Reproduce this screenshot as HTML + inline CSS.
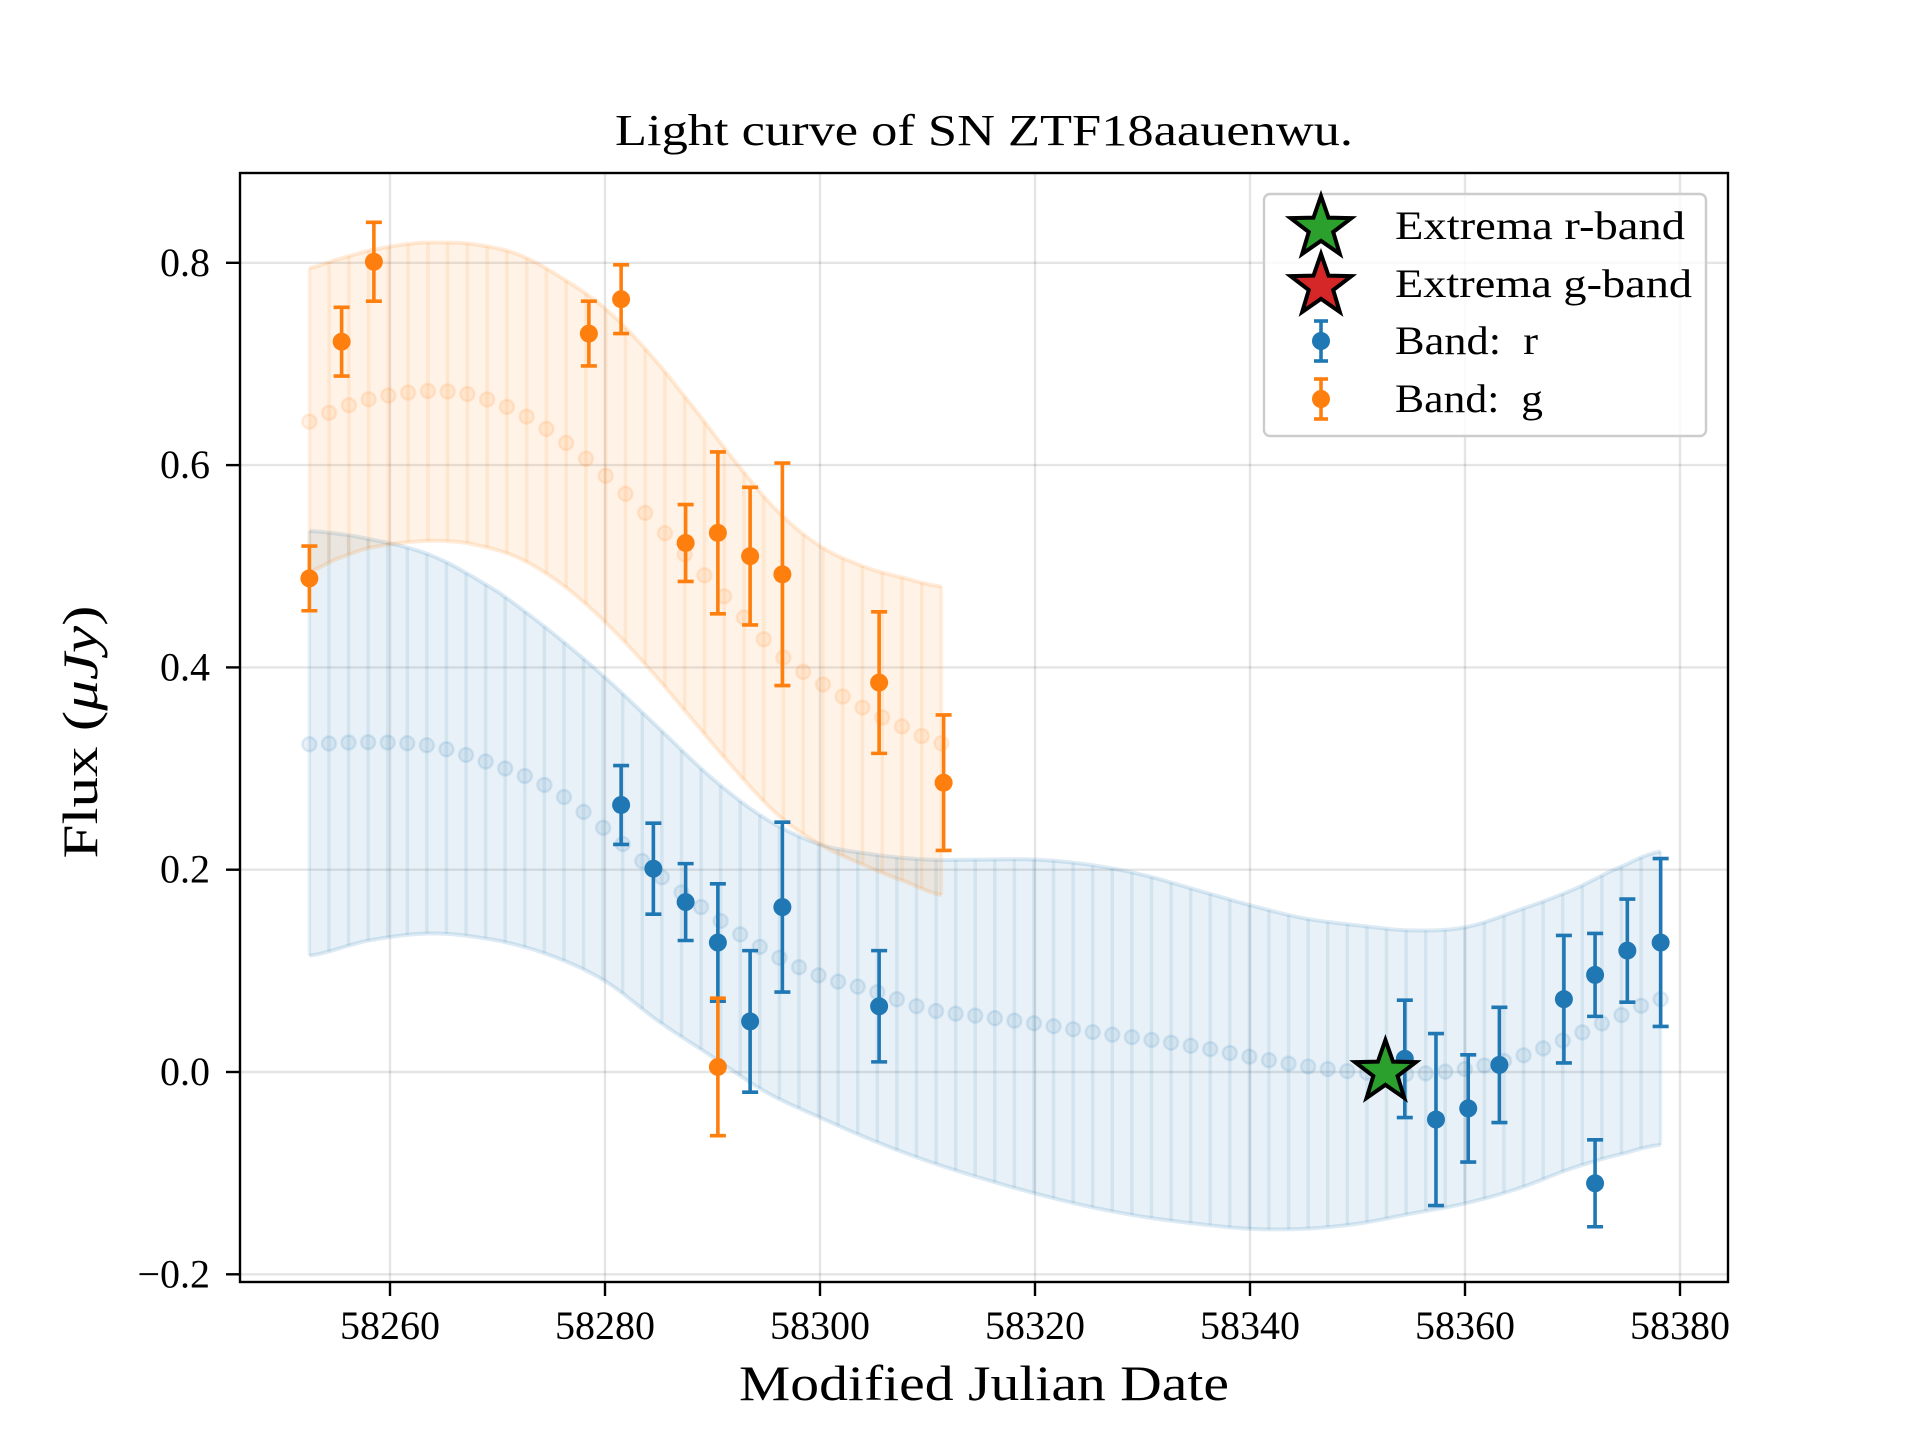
<!DOCTYPE html>
<html><head><meta charset="utf-8">
<style>
html,body{margin:0;padding:0;background:#fff;}
svg{display:block;font-family:"Liberation Serif","DejaVu Serif",serif;}
</style></head>
<body>
<svg id="chart" width="1920" height="1440" viewBox="0 0 1920 1440" xmlns="http://www.w3.org/2000/svg">
<rect width="1920" height="1440" fill="#fff"/>
<text x="984" y="145" font-size="44" text-anchor="middle" textLength="738" lengthAdjust="spacingAndGlyphs">Light curve of SN ZTF18aauenwu.</text>
<g id="grid"></g>
<g id="bands"></g>
<g id="points"></g>
<rect x="240" y="173" width="1488" height="1109" fill="none" stroke="#000" stroke-width="2.4"/>
<g id="axes"></g>
<text x="984" y="1400" font-size="50" text-anchor="middle" textLength="490" lengthAdjust="spacingAndGlyphs">Modified Julian Date</text>
<text x="0" y="0" font-size="50" text-anchor="middle" textLength="253" lengthAdjust="spacingAndGlyphs" transform="translate(97,732) rotate(-90)">Flux (<tspan font-style="italic">μJy</tspan>)</text>
<g id="legend"></g>
</svg>
<script>
// ---- data ----
const xTicks = [58260, 58280, 58300, 58320, 58340, 58360, 58380];
const yTicks = [-0.2, 0.0, 0.2, 0.4, 0.6, 0.8];
const yTickLabels = ["\u22120.2", "0.0", "0.2", "0.4", "0.6", "0.8"];

const gDates = [58252.5, 58255.5, 58258.5, 58278.5, 58281.5, 58287.5, 58290.5, 58293.5, 58296.5, 58305.5, 58311.5, 58290.5];
const gFlux  = [0.488, 0.722, 0.801, 0.730, 0.764, 0.523, 0.533, 0.510, 0.492, 0.385, 0.286, 0.005];
const gErr   = [0.032, 0.034, 0.039, 0.032, 0.034, 0.038, 0.080, 0.068, 0.110, 0.070, 0.067, 0.068];

const rDates = [58281.5, 58284.5, 58287.5, 58290.5, 58293.5, 58296.5, 58305.5, 58354.4, 58357.3, 58360.3, 58363.2, 58369.2, 58372.1, 58372.1, 58375.1, 58378.2];
const rFlux  = [0.264, 0.201, 0.168, 0.128, 0.050, 0.163, 0.065, 0.013, -0.047, -0.036, 0.007, 0.072, 0.096, -0.110, 0.120, 0.128];
const rErr   = [0.039, 0.045, 0.038, 0.058, 0.070, 0.084, 0.055, 0.058, 0.085, 0.053, 0.057, 0.063, 0.041, 0.043, 0.051, 0.083];

const extremaR = [58352.6, 0.0];

// GP model knots (r band)
const rModelDates = [58252.5,58258,58264,58270,58275,58280,58285,58290,58295,58300,58305,58310,58315,58320,58325,58330,58335,58340,58345,58350,58355,58360,58365,58370,58375,58378.2];
const rModelMean  = [0.324,0.326,0.322,0.303,0.280,0.240,0.195,0.155,0.120,0.095,0.080,0.062,0.055,0.048,0.040,0.033,0.025,0.015,0.006,0.000,-0.002,0.003,0.015,0.035,0.058,0.072];
const rModelUpper = [0.535,0.527,0.510,0.475,0.435,0.390,0.340,0.290,0.250,0.225,0.215,0.210,0.210,0.210,0.205,0.195,0.180,0.165,0.152,0.145,0.140,0.143,0.160,0.180,0.205,0.218];
const rModelLower = [0.115,0.130,0.137,0.130,0.115,0.090,0.050,0.015,-0.020,-0.045,-0.068,-0.088,-0.105,-0.120,-0.133,-0.143,-0.150,-0.155,-0.155,-0.150,-0.140,-0.130,-0.115,-0.095,-0.080,-0.072];
// GP model knots (g band)
const gModelDates = [58252.5,58255,58258,58262,58265,58268,58272,58276,58280,58284,58288,58292,58296,58300,58304,58308,58311.3];
const gModelMean  = [0.643,0.655,0.665,0.672,0.673,0.668,0.652,0.625,0.590,0.550,0.505,0.460,0.415,0.385,0.360,0.340,0.325];
const gModelUpper = [0.795,0.803,0.812,0.819,0.820,0.818,0.808,0.785,0.755,0.712,0.660,0.605,0.555,0.520,0.500,0.488,0.480];
const gModelLower = [0.495,0.507,0.518,0.524,0.525,0.521,0.508,0.482,0.445,0.400,0.350,0.300,0.255,0.225,0.205,0.188,0.175];

// ---- scales ----
const NS = "http://www.w3.org/2000/svg";
function X(d){ return 390 + (d - 58260) * 10.75; }
function Y(v){ return 1072 - v * 1011.5; }
function mk(tag, attrs, parent){ const e = document.createElementNS(NS, tag); for (const k in attrs) e.setAttribute(k, attrs[k]); parent.appendChild(e); return e; }
function curve(xs, ys, t){
  let i = 0; while (i < xs.length - 2 && t > xs[i+1]) i++;
  const x0 = xs[i], x1 = xs[i+1], u = Math.max(0, Math.min(1, (t - x0) / (x1 - x0)));
  const p0 = ys[Math.max(0,i-1)], p1 = ys[i], p2 = ys[i+1], p3 = ys[Math.min(ys.length-1,i+2)];
  const u2=u*u, u3=u2*u;
  return 0.5*((2*p1)+(-p0+p2)*u+(2*p0-5*p1+4*p2-p3)*u2+(-p0+3*p1-3*p2+p3)*u3);
}

const grid = document.getElementById('grid');
const axes = document.getElementById('axes');
xTicks.forEach((t) => {
  const gl = mk('line', {x1:X(t), x2:X(t), y1:173, y2:1282, stroke:'#000', 'stroke-opacity':0.1, 'stroke-width':2.4}, grid);
  
  
  const tk = mk('line', {x1:X(t), x2:X(t), y1:1282, y2:1296, stroke:'#000', 'stroke-width':2.4}, axes);
  
  
  const lb = mk('text', {x:X(t), y:1339, 'font-size':40, 'text-anchor':'middle'}, axes);
  lb.textContent = t;
  
  
});
yTicks.forEach((t, i) => {
  const gl = mk('line', {x1:240, x2:1728, y1:Y(t), y2:Y(t), stroke:'#000', 'stroke-opacity':0.1, 'stroke-width':2.4}, grid);
  
  
  const tk = mk('line', {x1:226, x2:240, y1:Y(t), y2:Y(t), stroke:'#000', 'stroke-width':2.4}, axes);
  
  
  const lb = mk('text', {x:210, y:Y(t)+13, 'font-size':40, 'text-anchor':'end'}, axes);
  lb.textContent = yTickLabels[i];
  
  
});

// ---- model bands ----
const bands = document.getElementById('bands');
function drawBand(dates, mean, up, lo, color, n, name){
  const g = mk('g', {}, bands);
  
  
  const d0 = dates[0], d1 = dates[dates.length-1];
  let top = [], bot = [];
  for (let k = 0; k <= 200; k++){ const t = d0 + (d1-d0)*k/200; top.push(X(t)+','+Y(curve(dates, up, t))); bot.push(X(t)+','+Y(curve(dates, lo, t))); }
  mk('polygon', {points: top.concat(bot.slice().reverse()).join(' '), fill:color, 'fill-opacity':0.1}, g);
  mk('polyline', {points: top.join(' '), fill:'none', stroke:color, 'stroke-opacity':0.15, 'stroke-width':4}, g);
  mk('polyline', {points: bot.join(' '), fill:'none', stroke:color, 'stroke-opacity':0.15, 'stroke-width':4}, g);
  for (let k = 0; k < n; k++){
    const t = d0 + (d1-d0)*k/(n-1);
    const yu = Y(curve(dates, up, t)), yl = Y(curve(dates, lo, t)), ym = Y(curve(dates, mean, t));
    mk('line', {x1:X(t), x2:X(t), y1:yu, y2:yl, stroke:color, 'stroke-opacity':0.1, 'stroke-width':3.5}, g);
    const c = mk('circle', {cx:X(t), cy:ym, r:7, fill:color, 'fill-opacity':0.1, stroke:color, 'stroke-opacity':0.12, 'stroke-width':2.5}, g);
    
    
  }
}
drawBand(rModelDates, rModelMean, rModelUpper, rModelLower, '#1f77b4', 70, 'r-band-model');
drawBand(gModelDates, gModelMean, gModelUpper, gModelLower, '#ff7f0e', 33, 'g-band-model');

// ---- data points ----
const pts = document.getElementById('points');
function drawPts(dates, flux, err, color, name){
  dates.forEach((d, i) => {
    const g = mk('g', {}, pts);
    
    
    const x = X(d), yt = Y(flux[i] + err[i]), yb = Y(flux[i] - err[i]);
    mk('line', {x1:x, x2:x, y1:yt, y2:yb, stroke:color, 'stroke-width':3.6}, g);
    mk('line', {x1:x-8, x2:x+8, y1:yt, y2:yt, stroke:color, 'stroke-width':3.6}, g);
    mk('line', {x1:x-8, x2:x+8, y1:yb, y2:yb, stroke:color, 'stroke-width':3.6}, g);
    mk('circle', {cx:x, cy:Y(flux[i]), r:9, fill:color}, g);
  });
}
drawPts(rDates, rFlux, rErr, '#1f77b4', 'r-band-point');
drawPts(gDates, gFlux, gErr, '#ff7f0e', 'g-band-point');

function starPath(cx, cy, R){
  const r = R*0.4; let p = [];
  for (let k = 0; k < 10; k++){ const a = -Math.PI/2 + k*Math.PI/5; const rr = k%2 ? r : R; p.push((cx+rr*Math.cos(a)).toFixed(1)+','+(cy+rr*Math.sin(a)).toFixed(1)); }
  return p.join(' ');
}
const st = mk('polygon', {points: starPath(X(extremaR[0]), Y(extremaR[1]), 32), fill:'#2ca02c', stroke:'#000', 'stroke-width':4, 'stroke-linejoin':'miter'}, pts);



// ---- legend ----
const lg = document.getElementById('legend');
const box = mk('rect', {x:1264, y:194, width:442, height:242, rx:6, fill:'#fff', 'fill-opacity':0.8, stroke:'#ccc', 'stroke-width':2.4}, lg);


const legendLabels = ['Extrema r-band', 'Extrema g-band', 'Band:  r', 'Band:  g'];
const legendWidths = [290, 297, 143, 148];
const legendY = [226, 284, 341, 399];
legendLabels.forEach((lab, i) => {
  const g = mk('g', {}, lg);
  
  
  if (i < 2) {
    mk('polygon', {points: starPath(1321, legendY[i]+2, 32), fill: i==0 ? '#2ca02c' : '#d62728', stroke:'#000', 'stroke-width':4}, g);
  } else {
    const c = i==2 ? '#1f77b4' : '#ff7f0e';
    mk('line', {x1:1321, x2:1321, y1:legendY[i]-20, y2:legendY[i]+20, stroke:c, 'stroke-width':3.6}, g);
    mk('line', {x1:1314, x2:1328, y1:legendY[i]-20, y2:legendY[i]-20, stroke:c, 'stroke-width':3.6}, g);
    mk('line', {x1:1314, x2:1328, y1:legendY[i]+20, y2:legendY[i]+20, stroke:c, 'stroke-width':3.6}, g);
    mk('circle', {cx:1321, cy:legendY[i], r:9, fill:c}, g);
  }
  const t = mk('text', {x:1395, y:legendY[i]+13, 'font-size':40, textLength:legendWidths[i], lengthAdjust:'spacingAndGlyphs'}, g);
  t.textContent = lab;
  t.style.whiteSpace = 'pre';
});
</script>
</body></html>
